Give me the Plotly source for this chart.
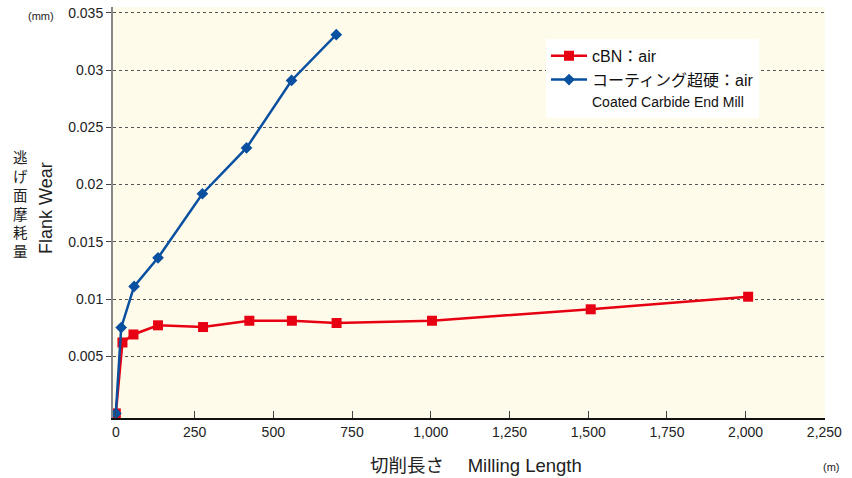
import plotly.graph_objects as go

# Data
cbn_x = [0, 21, 56, 134, 277, 424, 559, 701, 1004, 1508, 2008]
cbn_y = [0, 0.0062, 0.0069, 0.0077, 0.00755, 0.0081, 0.0081, 0.0079, 0.0081, 0.0091, 0.0102]
coat_x = [0, 17, 58, 134, 275, 415, 558, 700]
coat_y = [0, 0.0075, 0.0111, 0.0136, 0.0192, 0.0232, 0.0291, 0.0331]

x_ticks = [0, 250, 500, 750, 1000, 1250, 1500, 1750, 2000, 2250]
x_ticklabels = ["0", "250", "500", "750", "1,000", "1,250", "1,500", "1,750", "2,000", "2,250"]
y_ticks = [0.005, 0.01, 0.015, 0.02, 0.025, 0.03, 0.035]
y_ticklabels = ["0.005", "0.01", "0.015", "0.02", "0.025", "0.03", "0.035"]
y_title_jp = ["逃", "げ", "面", "摩", "耗", "量"]

FONT = "Liberation Sans, Arial, Noto Sans CJK JP, sans-serif"
RED = "#e60012"
BLUE = "#0a50a0"

W, H = 852, 478
L, R, T, B = 113, 27, 5, 60
pw, ph = W - L - R, H - T - B


def px2paper(px, py):
    return (px - L) / pw, 1 - (py - T) / ph


fig = go.Figure()
fig.add_trace(go.Scatter(
    x=cbn_x, y=cbn_y, mode="lines+markers", name="cBN：air",
    line=dict(color=RED, width=2.5),
    marker=dict(symbol="square", size=10, color=RED),
))
fig.add_trace(go.Scatter(
    x=coat_x, y=coat_y, mode="lines+markers",
    name="コーティング超硬：air<br><span style='font-size:14px'>Coated Carbide End Mill</span>",
    line=dict(color=BLUE, width=2.5),
    marker=dict(symbol="diamond", size=9, color=BLUE),
))

anns = []


def ann(text, px, py, size, **kw):
    x, y = px2paper(px, py)
    anns.append(dict(text=text, x=x, y=y, xref="paper", yref="paper", showarrow=False,
                     xanchor="center", yanchor="middle",
                     font=dict(size=size, color="#222"), **kw))


ann("(mm)", 41, 14, 11)
ann("(m)", 831, 467, 11)
ann("切削長さ　 Milling Length", 476, 466, 18.5)
ann("<br>".join(y_title_jp), 21, 204, 14.5)
ann("Flank Wear", 46, 207, 18, textangle=-90)

lx, ly = px2paper(546, 37)
fig.update_layout(
    width=W, height=H,
    margin=dict(l=L, r=R, t=T, b=B),
    paper_bgcolor="white",
    plot_bgcolor="#fffbeb",
    font=dict(family=FONT, size=14, color="#222"),
    showlegend=True,
    legend=dict(
        x=lx, y=ly, xanchor="left", yanchor="top",
        bgcolor="white", font=dict(size=16, color="#111"),
        tracegroupgap=0, itemwidth=36, valign="top",
    ),
    xaxis=dict(
        range=[-9, 2252], tickvals=x_ticks, ticktext=x_ticklabels,
        showgrid=False, zeroline=False,
        showline=True, linecolor="#111", linewidth=1.5,
        ticks="inside", ticklen=7, tickcolor="#444", tickwidth=1,
        tickfont=dict(size=14, color="#222"),
    ),
    yaxis=dict(
        range=[-0.0004, 0.03552], tickvals=y_ticks, ticktext=y_ticklabels,
        showgrid=True, gridcolor="#555", griddash="dot", gridwidth=1,
        zeroline=False,
        showline=True, linecolor="#888", linewidth=2,
        ticks="outside", ticklen=5, tickcolor="#444",
        tickfont=dict(size=14, color="#222"),
    ),
    annotations=anns,
)

fig.write_html("out.html", config={"displayModeBar": False},
               post_script="document.body.style.margin='0';document.body.style.padding='0';")
